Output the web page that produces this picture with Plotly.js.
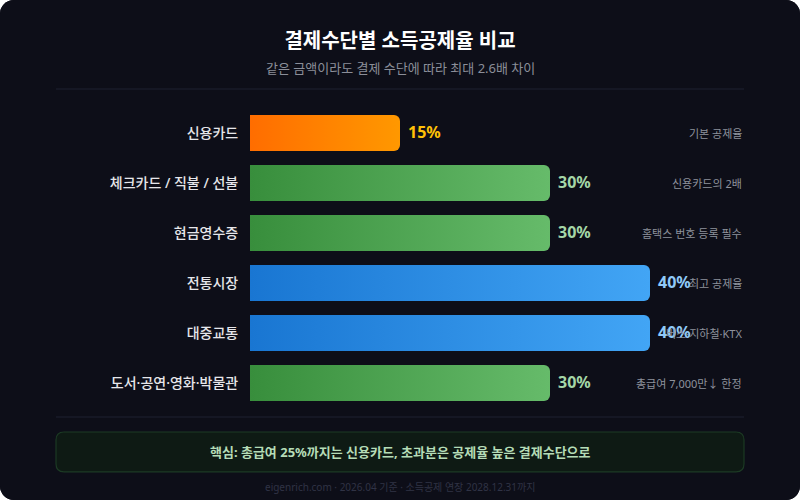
<!DOCTYPE html>
<html>
<head>
<meta charset="utf-8">
<script src="https://cdn.plot.ly/plotly-3.0.1.min.js"></script>
<style>
  html, body { margin:0; padding:0; background:#ffffff; }
  #chart { width:800px; height:500px; border-radius:14px; overflow:hidden; background:#0d0e18; }
</style>
</head>
<body>
<div id="chart"></div>
<script>
// ---- data ----
const categories = ['신용카드', '체크카드 / 직불 / 선불', '현금영수증', '전통시장', '대중교통', '도서·공연·영화·박물관'];
const rates = [15, 30, 30, 40, 40, 30];
const valueLabels = ['15%', '30%', '30%', '40%', '40%', '30%'];
const notes = ['기본 공제율', '신용카드의 2배', '홈택스 번호 등록 필수', '최고 공제율', '버스·지하철·KTX', '총급여 7,000만↓ 한정'];
const titleText = '결제수단별 소득공제율 비교';
const subtitleText = '같은 금액이라도 결제 수단에 따라 최대 2.6배 차이';
const keyText = '핵심: 총급여 25%까지는 신용카드, 초과분은 공제율 높은 결제수단으로';
const footerText = 'eigenrich.com · 2026.04 기준 · 소득공제 연장 2028.12.31까지';

// ---- styles ----
const FONT = '"Noto Sans", "Noto Sans CJK KR", sans-serif';
const palette = { 15: ['#ff6d00', '#ff9800', '#ffc107'], 30: ['#388e3c', '#66bb6a', '#a5d6a7'], 40: ['#1976d2', '#42a5f5', '#90caf9'] };
const gradId = { 15: 'gOrange', 30: 'gGreen', 40: 'gBlue' };

const trace = {
  type: 'bar',
  orientation: 'h',
  y: categories,
  x: rates,
  width: 0.72,
  marker: { color: rates.map(r => palette[r][1]), cornerradius: 6, line: { width: 0 } },
  hoverinfo: 'none'
};

const annotations = [];
categories.forEach((c, i) => {
  annotations.push({
    x: rates[i], y: c, xref: 'x', yref: 'y', text: '<b>' + valueLabels[i] + '</b>',
    showarrow: false, xanchor: 'left', xshift: 6, yshift: 1,
    font: { family: FONT, size: 16, color: palette[rates[i]][2] }
  });
  annotations.push({
    x: 1, y: c, xref: 'paper', yref: 'y', text: notes[i],
    showarrow: false, xanchor: 'right', xshift: -6,
    font: { family: FONT, size: 11, color: '#8e929c' }
  });
});
annotations.push({
  x: 0.3, y: 1.1333, xref: 'paper', yref: 'paper', text: subtitleText, showarrow: false,
  xanchor: 'center', yanchor: 'middle', font: { family: FONT, size: 13, color: '#8b8e99' }
});
annotations.push({
  x: 0.3, y: -0.1467, xref: 'paper', yref: 'paper', text: '<b>' + keyText + '</b>', showarrow: false,
  xanchor: 'center', yanchor: 'middle', font: { family: FONT, size: 13, color: '#b5dcb7' }
});
annotations.push({
  x: 0.3, y: -0.2633, xref: 'paper', yref: 'paper', text: footerText, showarrow: false,
  xanchor: 'center', yanchor: 'middle', font: { family: FONT, size: 10, color: '#303345' }
});

// rounded rect path in paper coords for the key box
function roundRect(x0, y0, x1, y1, rx, ry) {
  return `M ${x0+rx},${y1} L ${x1-rx},${y1} Q ${x1},${y1} ${x1},${y1-ry} L ${x1},${y0+ry} Q ${x1},${y0} ${x1-rx},${y0} ` +
         `L ${x0+rx},${y0} Q ${x0},${y0} ${x0},${y0+ry} L ${x0},${y1-ry} Q ${x0},${y1} ${x0+rx},${y1} Z`;
}

const layout = {
  width: 800, height: 500,
  margin: { l: 250, r: 50, t: 108, b: 92 },
  paper_bgcolor: '#0d0e18',
  plot_bgcolor: 'rgba(0,0,0,0)',
  showlegend: false,
  title: {
    text: '<b>' + titleText + '</b>', x: 0.5, xref: 'container', xanchor: 'center',
    y: 0.918, yref: 'container', yanchor: 'middle',
    font: { family: FONT, size: 20, color: '#ffffff' }
  },
  xaxis: { range: [0, 50], showgrid: false, zeroline: false, showticklabels: false, showline: false, fixedrange: true },
  yaxis: {
    type: 'category', autorange: 'reversed', showgrid: false, zeroline: false, showline: false,
    ticks: 'outside', ticklen: 8, tickcolor: 'rgba(0,0,0,0)',
    tickfont: { family: FONT, size: 14, color: '#e6e6ea', weight: 500 }
  },
  shapes: [
    { type: 'line', xref: 'paper', yref: 'paper', x0: -0.388, x1: 0.988, y0: 1.0633, y1: 1.0633, line: { color: '#1e2030', width: 1 } },
    { type: 'line', xref: 'paper', yref: 'paper', x0: -0.388, x1: 0.988, y0: -0.03, y1: -0.03, line: { color: '#1e2030', width: 1 } },
    { type: 'path', xref: 'paper', yref: 'paper', path: roundRect(-0.388, -0.213, 0.988, -0.08, 0.016, 0.027),
      fillcolor: '#0e1a14', line: { color: '#1c3a24', width: 1.2 } }
  ],
  annotations: annotations
};

Plotly.newPlot('chart', [trace], layout, { displayModeBar: false, staticPlot: true }).then(gd => {
  const svg = gd.querySelector('.main-svg');
  const ns = 'http://www.w3.org/2000/svg';
  let defs = svg.querySelector('defs');
  if (!defs) { defs = document.createElementNS(ns, 'defs'); svg.insertBefore(defs, svg.firstChild); }
  Object.keys(gradId).forEach(k => {
    const lg = document.createElementNS(ns, 'linearGradient');
    lg.setAttribute('id', gradId[k]);
    lg.setAttribute('x1', '0'); lg.setAttribute('y1', '0'); lg.setAttribute('x2', '1'); lg.setAttribute('y2', '0');
    [[0, palette[k][0]], [1, palette[k][1]]].forEach(([o, c]) => {
      const st = document.createElementNS(ns, 'stop');
      st.setAttribute('offset', o); st.setAttribute('stop-color', c);
      lg.appendChild(st);
    });
    defs.appendChild(lg);
  });
  const paths = gd.querySelectorAll('.barlayer .point path');
  paths.forEach((p, i) => { p.style.fill = 'url(#' + gradId[rates[i]] + ')'; });
});
</script>
</body>
</html>
